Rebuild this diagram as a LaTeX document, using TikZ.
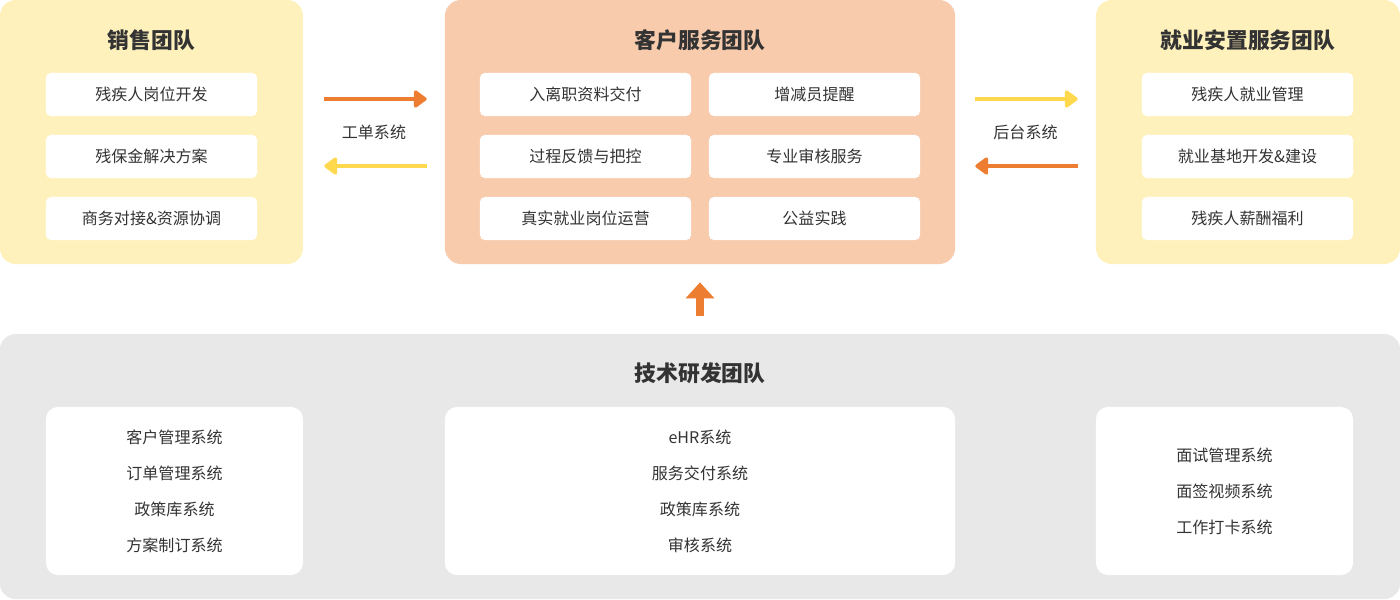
\documentclass[tikz,border=0pt]{standalone}
\usepackage{fontspec}
\setmainfont{Noto Sans CJK SC}
\usetikzlibrary{arrows.meta, positioning, calc}

\definecolor{salesfill}{HTML}{FFF1BC}
\definecolor{custfill}{HTML}{F8CBAD}
\definecolor{techfill}{HTML}{E8E8E8}
\definecolor{arroworange}{HTML}{ED7D31}
\definecolor{arrowyellow}{HTML}{FFD84D}
\definecolor{textgray}{HTML}{333333}

\begin{document}
\begin{tikzpicture}[x=0.025cm, y=-0.025cm,
        every node/.style={text=textgray, inner sep=0pt, align=center},
        panel/.style={rounded corners=0.4cm, minimum height=6.6cm},
        title/.style={font=\fontsize{15.5}{18}\selectfont\bfseries},
        itembox/.style={fill=white, rounded corners=0.12cm, minimum width=5.275cm, minimum height=1.075cm, font=\fontsize{11.4}{13}\selectfont},
        sysbox/.style={fill=white, rounded corners=0.3cm, minimum height=4.2cm, font=\fontsize{11.4}{25.6}\selectfont},
        linklbl/.style={font=\fontsize{11.4}{13}\selectfont},
        fwd/.style={-{Triangle[length=10pt, width=14pt, round]}, line width=2.4pt},
        upflow/.style={-{Triangle[length=11.5pt, width=20pt]}, line width=5.7pt, draw=arroworange}]

        \useasboundingbox (0,0) rectangle (1400,599);

        % Panels
        \node [panel, fill=salesfill, minimum width=7.575cm] (sales) at (151.5,132) {};
        \node [panel, fill=custfill, minimum width=12.75cm] (cust) at (700,132) {};
        \node [panel, fill=salesfill, minimum width=7.6cm] (place) at (1248,132) {};
        \node [panel, fill=techfill, minimum width=35cm, minimum height=6.625cm] (tech) at (700,466.5) {};

        % Titles
        \node [title] (salestitle) at (151.5,40) {销售团队};
        \node [title] (custtitle) at (700,40) {客户服务团队};
        \node [title] (placetitle) at (1248,40) {就业安置服务团队};
        \node [title] (techtitle) at (700,373) {技术研发团队};

        % Sales items
        \node [itembox] (s1) at (151.5,94.5) {残疾人岗位开发};
        \node [itembox] (s2) at (151.5,156.5) {残保金解决方案};
        \node [itembox] (s3) at (151.5,218.5) {商务对接\&资源协调};

        % Customer service items
        \node [itembox] (c1) at (585.5,94.5) {入离职资料交付};
        \node [itembox] (c2) at (814.5,94.5) {增减员提醒};
        \node [itembox] (c3) at (585.5,156.5) {过程反馈与把控};
        \node [itembox] (c4) at (814.5,156.5) {专业审核服务};
        \node [itembox] (c5) at (585.5,218.5) {真实就业岗位运营};
        \node [itembox] (c6) at (814.5,218.5) {公益实践};

        % Placement items
        \node [itembox] (p1) at (1247.5,94.5) {残疾人就业管理};
        \node [itembox] (p2) at (1247.5,156.5) {就业基地开发\&建设};
        \node [itembox] (p3) at (1247.5,218.5) {残疾人薪酬福利};

        % Tech systems
        \node [sysbox, minimum width=6.425cm] (t1) at (174.5,491) {客户管理系统\\订单管理系统\\政策库系统\\方案制订系统};
        \node [sysbox, minimum width=12.75cm] (t2) at (700,491) {eHR系统\\服务交付系统\\政策库系统\\审核系统};
        \node [sysbox, minimum width=6.425cm] (t3) at (1224.5,491) {面试管理系统\\面签视频系统\\工作打卡系统};

        % Link labels
        \node [linklbl] (ordersys) at ($(sales.east)!0.5!(cust.west)$) {工单系统};
        \node [linklbl] (backsys) at ($(cust.east)!0.5!(place.west)$) {后台系统};

        % Arrows
        \draw [fwd, draw=arroworange, shorten <=0.525cm, shorten >=0.45cm] ([yshift=0.825cm]sales.east) -- ([yshift=0.825cm]cust.west);
        \draw [fwd, draw=arrowyellow, shorten <=0.45cm, shorten >=0.525cm] ([yshift=-0.85cm]cust.west) -- ([yshift=-0.85cm]sales.east);
        \draw [fwd, draw=arrowyellow, shorten <=0.5cm, shorten >=0.45cm] ([yshift=0.825cm]cust.east) -- ([yshift=0.825cm]place.west);
        \draw [fwd, draw=arroworange, shorten <=0.45cm, shorten >=0.5cm] ([yshift=-0.85cm]place.west) -- ([yshift=-0.85cm]cust.east);
        \draw [upflow, shorten <=0.45cm, shorten >=0.45cm] (tech.north) -- (cust.south);
\end{tikzpicture}
\end{document}
